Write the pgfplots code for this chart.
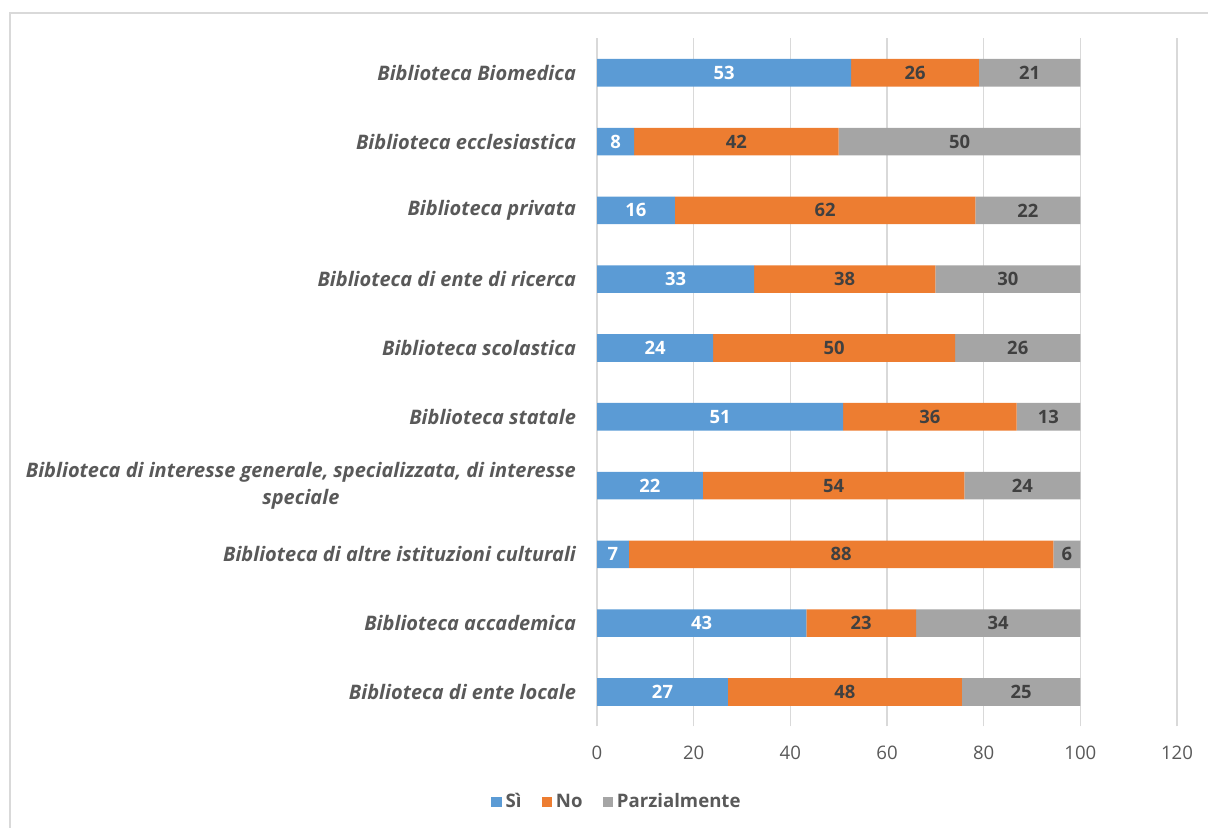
\documentclass[border=0pt]{standalone}
\usepackage{pgfplots}
\pgfplotsset{compat=1.18}
\usepackage{fontspec}
\setmainfont{Open Sans}
\definecolor{cblue}{HTML}{5B9BD5}
\definecolor{corange}{HTML}{ED7D31}
\definecolor{cgray}{HTML}{A5A5A5}
\definecolor{ctext}{HTML}{595959}
\definecolor{cdark}{HTML}{404040}
\definecolor{cgrid}{HTML}{D9D9D9}
\begin{document}
\begin{tikzpicture}
\useasboundingbox (0,0) rectangle (604pt,414pt);
\draw[cgrid, line width=1pt] (5pt,0) -- (5pt,407.5pt) -- (604pt,407.5pt);
\begin{axis}[
  at={(298.5pt,50.8pt)}, anchor=south west,
  scale only axis, width=290pt, height=344pt,
  xbar stacked, bar width=13.8pt,
  xmin=0, xmax=120, ymin=-0.5, ymax=9.5,
  xtick={0,20,...,120}, ytick={0,...,9},
  yticklabels={Biblioteca di ente locale, Biblioteca accademica, Biblioteca di altre istituzioni culturali, {Biblioteca di interesse generale, specializzata, di interesse\\speciale}, Biblioteca statale, Biblioteca scolastica, Biblioteca di ente di ricerca, Biblioteca privata, Biblioteca ecclesiastica, Biblioteca Biomedica},
  axis line style={draw=none},
  major tick length=0pt,
  xmajorgrids, grid style={cgrid, line width=0.8pt},
  /pgf/number format/assume math mode=true,
  xticklabel style={font=\fontsize{9.3}{11}\selectfont, text=ctext, yshift=-6.5pt},
  yticklabel style={font=\bfseries\itshape\fontsize{10}{13.5}\selectfont, text=ctext, align=center, xshift=-7pt},
  point meta=explicit symbolic,
  nodes near coords,
  every node near coord/.append style={anchor=center, font=\bfseries\fontsize{9.2}{11}\selectfont, text=cdark},
  legend columns=3,
  legend style={at={(0.036,-0.11)}, anchor=center, draw=none, font=\bfseries\fontsize{9.3}{11}\selectfont, text=ctext, /tikz/every even column/.append style={column sep=8pt}},
  legend image code/.code={\fill[#1] (0pt,-2.6pt) rectangle (5.2pt,2.6pt);},
]
\addplot[fill=cblue, draw=none, every node near coord/.append style={text=white}] coordinates {
(27.1,0) [27] (43.3,1) [43] (6.6,2) [7] (21.9,3) [22] (50.9,4) [51] (24.0,5) [24] (32.5,6) [33] (16.1,7) [16] (7.7,8) [8] (52.6,9) [53]};
\addplot[fill=corange, draw=none] coordinates {
(48.4,0) [48] (22.7,1) [23] (87.8,2) [88] (54.1,3) [54] (35.9,4) [36] (50.1,5) [50] (37.5,6) [38] (62.2,7) [62] (42.3,8) [42] (26.4,9) [26]};
\addplot[fill=cgray, draw=none] coordinates {
(24.5,0) [25] (34.0,1) [34] (5.6,2) [6] (24.0,3) [24] (13.2,4) [13] (25.9,5) [26] (30.0,6) [30] (21.7,7) [22] (50.0,8) [50] (21.0,9) [21]};
\legend{Sì, No, Parzialmente}
\end{axis}
\end{tikzpicture}
\end{document}
